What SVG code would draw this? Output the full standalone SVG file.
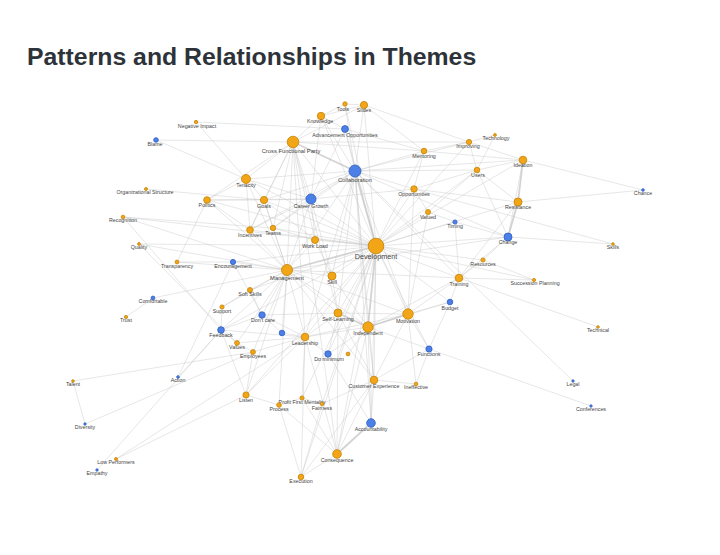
<svg xmlns="http://www.w3.org/2000/svg" width="720" height="555" viewBox="0 0 720 555">
<style>
.e{stroke:#c4c4c4;stroke-opacity:.5;stroke-width:.8;fill:none}
.t{stroke:#bcbcbc;stroke-opacity:.65;stroke-width:1.8;fill:none}
.o{fill:#f2a516;stroke:#c98a0e;stroke-width:.9}
.b{fill:#4d80e6;stroke:#3564c8;stroke-width:.9}
text{font-family:"Liberation Sans",Arial,sans-serif}
.l{font-size:5.3px;fill:#444;text-anchor:middle}
.m{font-size:5.8px}
.h{font-size:7.2px}
</style>
<rect width="720" height="555" fill="#fff"/>
<text x="27" y="65" font-size="24.8" font-weight="bold" fill="#2d3339">Patterns and Relationships in Themes</text>
<g id="connectors">
<line class="t" x1="376" y1="246" x2="355" y2="171"/>
<line class="e" x1="376" y1="246" x2="293" y2="142"/>
<line class="t" x1="376" y1="246" x2="287" y2="270"/>
<line class="t" x1="376" y1="246" x2="368" y2="327"/>
<line class="e" x1="376" y1="246" x2="408" y2="314"/>
<line class="e" x1="376" y1="246" x2="338" y2="313"/>
<line class="e" x1="376" y1="246" x2="311" y2="199"/>
<line class="e" x1="376" y1="246" x2="332" y2="276"/>
<line class="e" x1="376" y1="246" x2="315" y2="240"/>
<line class="e" x1="376" y1="246" x2="305" y2="337"/>
<line class="e" x1="376" y1="246" x2="459" y2="278"/>
<line class="e" x1="376" y1="246" x2="523" y2="160"/>
<line class="e" x1="376" y1="246" x2="518" y2="202"/>
<line class="e" x1="376" y1="246" x2="508" y2="237"/>
<line class="e" x1="376" y1="246" x2="371" y2="423"/>
<line class="e" x1="376" y1="246" x2="337" y2="454"/>
<line class="e" x1="376" y1="246" x2="374" y2="380"/>
<line class="e" x1="376" y1="246" x2="246" y2="179"/>
<line class="e" x1="376" y1="246" x2="264" y2="200"/>
<line class="e" x1="376" y1="246" x2="207" y2="200"/>
<line class="e" x1="376" y1="246" x2="250" y2="230"/>
<line class="e" x1="376" y1="246" x2="273" y2="228"/>
<line class="e" x1="376" y1="246" x2="414" y2="189"/>
<line class="e" x1="376" y1="246" x2="424" y2="151"/>
<line class="e" x1="376" y1="246" x2="321" y2="116"/>
<line class="e" x1="376" y1="246" x2="364" y2="105"/>
<line class="e" x1="376" y1="246" x2="345" y2="104"/>
<line class="e" x1="376" y1="246" x2="345" y2="129"/>
<line class="e" x1="376" y1="246" x2="469" y2="142"/>
<line class="e" x1="376" y1="246" x2="477" y2="170"/>
<line class="e" x1="376" y1="246" x2="428" y2="212"/>
<line class="e" x1="376" y1="246" x2="455" y2="222"/>
<line class="e" x1="376" y1="246" x2="483" y2="260"/>
<line class="e" x1="376" y1="246" x2="450" y2="302"/>
<line class="e" x1="376" y1="246" x2="429" y2="349"/>
<line class="e" x1="376" y1="246" x2="328" y2="354"/>
<line class="e" x1="376" y1="246" x2="221" y2="330"/>
<line class="e" x1="376" y1="246" x2="250" y2="290"/>
<line class="e" x1="376" y1="246" x2="233" y2="262"/>
<line class="e" x1="376" y1="246" x2="139" y2="244"/>
<line class="e" x1="376" y1="246" x2="123" y2="217"/>
<line class="e" x1="376" y1="246" x2="301" y2="477"/>
<line class="e" x1="376" y1="246" x2="246" y2="395"/>
<line class="e" x1="376" y1="246" x2="302" y2="398"/>
<line class="e" x1="376" y1="246" x2="322" y2="404"/>
<line class="e" x1="376" y1="246" x2="534" y2="280"/>
<line class="t" x1="355" y1="171" x2="293" y2="142"/>
<line class="e" x1="355" y1="171" x2="287" y2="270"/>
<line class="e" x1="355" y1="171" x2="368" y2="327"/>
<line class="e" x1="355" y1="171" x2="408" y2="314"/>
<line class="e" x1="355" y1="171" x2="311" y2="199"/>
<line class="e" x1="355" y1="171" x2="321" y2="116"/>
<line class="e" x1="355" y1="171" x2="364" y2="105"/>
<line class="e" x1="355" y1="171" x2="345" y2="104"/>
<line class="e" x1="355" y1="171" x2="345" y2="129"/>
<line class="e" x1="355" y1="171" x2="424" y2="151"/>
<line class="e" x1="355" y1="171" x2="414" y2="189"/>
<line class="e" x1="355" y1="171" x2="246" y2="179"/>
<line class="e" x1="355" y1="171" x2="264" y2="200"/>
<line class="e" x1="355" y1="171" x2="305" y2="337"/>
<line class="e" x1="355" y1="171" x2="338" y2="313"/>
<line class="e" x1="355" y1="171" x2="459" y2="278"/>
<line class="e" x1="355" y1="171" x2="469" y2="142"/>
<line class="e" x1="355" y1="171" x2="477" y2="170"/>
<line class="e" x1="355" y1="171" x2="523" y2="160"/>
<line class="e" x1="355" y1="171" x2="508" y2="237"/>
<line class="e" x1="355" y1="171" x2="250" y2="230"/>
<line class="e" x1="355" y1="171" x2="273" y2="228"/>
<line class="e" x1="355" y1="171" x2="332" y2="276"/>
<line class="e" x1="355" y1="171" x2="374" y2="380"/>
<line class="e" x1="355" y1="171" x2="371" y2="423"/>
<line class="e" x1="355" y1="171" x2="573" y2="381"/>
<line class="e" x1="293" y1="142" x2="246" y2="179"/>
<line class="e" x1="293" y1="142" x2="264" y2="200"/>
<line class="e" x1="293" y1="142" x2="207" y2="200"/>
<line class="e" x1="293" y1="142" x2="287" y2="270"/>
<line class="e" x1="293" y1="142" x2="311" y2="199"/>
<line class="e" x1="293" y1="142" x2="321" y2="116"/>
<line class="e" x1="293" y1="142" x2="364" y2="105"/>
<line class="e" x1="293" y1="142" x2="424" y2="151"/>
<line class="e" x1="293" y1="142" x2="250" y2="230"/>
<line class="e" x1="293" y1="142" x2="273" y2="228"/>
<line class="e" x1="293" y1="142" x2="315" y2="240"/>
<line class="e" x1="293" y1="142" x2="305" y2="337"/>
<line class="e" x1="293" y1="142" x2="338" y2="313"/>
<line class="e" x1="293" y1="142" x2="469" y2="142"/>
<line class="e" x1="293" y1="142" x2="337" y2="454"/>
<line class="e" x1="293" y1="142" x2="156" y2="140"/>
<line class="e" x1="287" y1="270" x2="246" y2="179"/>
<line class="e" x1="287" y1="270" x2="264" y2="200"/>
<line class="e" x1="287" y1="270" x2="207" y2="200"/>
<line class="e" x1="287" y1="270" x2="311" y2="199"/>
<line class="e" x1="287" y1="270" x2="332" y2="276"/>
<line class="e" x1="287" y1="270" x2="368" y2="327"/>
<line class="e" x1="287" y1="270" x2="408" y2="314"/>
<line class="e" x1="287" y1="270" x2="338" y2="313"/>
<line class="e" x1="287" y1="270" x2="305" y2="337"/>
<line class="e" x1="287" y1="270" x2="250" y2="290"/>
<line class="e" x1="287" y1="270" x2="222" y2="307"/>
<line class="e" x1="287" y1="270" x2="221" y2="330"/>
<line class="e" x1="287" y1="270" x2="262" y2="315"/>
<line class="e" x1="287" y1="270" x2="282" y2="333"/>
<line class="e" x1="287" y1="270" x2="237" y2="343"/>
<line class="e" x1="287" y1="270" x2="253" y2="352"/>
<line class="e" x1="287" y1="270" x2="177" y2="262"/>
<line class="e" x1="287" y1="270" x2="233" y2="262"/>
<line class="e" x1="287" y1="270" x2="153" y2="298"/>
<line class="e" x1="287" y1="270" x2="250" y2="230"/>
<line class="e" x1="287" y1="270" x2="273" y2="228"/>
<line class="e" x1="287" y1="270" x2="315" y2="240"/>
<line class="e" x1="287" y1="270" x2="123" y2="217"/>
<line class="e" x1="287" y1="270" x2="139" y2="244"/>
<line class="e" x1="287" y1="270" x2="374" y2="380"/>
<line class="e" x1="287" y1="270" x2="459" y2="278"/>
<line class="e" x1="287" y1="270" x2="508" y2="237"/>
<line class="e" x1="287" y1="270" x2="279" y2="405"/>
<line class="e" x1="287" y1="270" x2="246" y2="395"/>
<line class="t" x1="368" y1="327" x2="408" y2="314"/>
<line class="t" x1="368" y1="327" x2="338" y2="313"/>
<line class="e" x1="368" y1="327" x2="371" y2="423"/>
<line class="e" x1="368" y1="327" x2="337" y2="454"/>
<line class="e" x1="368" y1="327" x2="374" y2="380"/>
<line class="e" x1="368" y1="327" x2="328" y2="354"/>
<line class="e" x1="368" y1="327" x2="305" y2="337"/>
<line class="e" x1="368" y1="327" x2="429" y2="349"/>
<line class="e" x1="368" y1="327" x2="450" y2="302"/>
<line class="e" x1="368" y1="327" x2="459" y2="278"/>
<line class="e" x1="368" y1="327" x2="332" y2="276"/>
<line class="e" x1="368" y1="327" x2="348" y2="354"/>
<line class="e" x1="408" y1="314" x2="338" y2="313"/>
<line class="e" x1="408" y1="314" x2="450" y2="302"/>
<line class="e" x1="408" y1="314" x2="459" y2="278"/>
<line class="e" x1="408" y1="314" x2="429" y2="349"/>
<line class="e" x1="408" y1="314" x2="374" y2="380"/>
<line class="e" x1="408" y1="314" x2="416" y2="384"/>
<line class="e" x1="408" y1="314" x2="305" y2="337"/>
<line class="e" x1="408" y1="314" x2="414" y2="189"/>
<line class="e" x1="408" y1="314" x2="428" y2="212"/>
<line class="e" x1="338" y1="313" x2="305" y2="337"/>
<line class="e" x1="338" y1="313" x2="332" y2="276"/>
<line class="e" x1="338" y1="313" x2="328" y2="354"/>
<line class="e" x1="338" y1="313" x2="374" y2="380"/>
<line class="e" x1="338" y1="313" x2="337" y2="454"/>
<line class="e" x1="338" y1="313" x2="262" y2="315"/>
<line class="e" x1="311" y1="199" x2="264" y2="200"/>
<line class="e" x1="311" y1="199" x2="246" y2="179"/>
<line class="e" x1="311" y1="199" x2="273" y2="228"/>
<line class="e" x1="311" y1="199" x2="250" y2="230"/>
<line class="e" x1="311" y1="199" x2="315" y2="240"/>
<line class="e" x1="311" y1="199" x2="345" y2="129"/>
<line class="e" x1="311" y1="199" x2="321" y2="116"/>
<line class="e" x1="311" y1="199" x2="414" y2="189"/>
<line class="e" x1="311" y1="199" x2="332" y2="276"/>
<line class="e" x1="311" y1="199" x2="207" y2="200"/>
<line class="t" x1="371" y1="423" x2="337" y2="454"/>
<line class="e" x1="371" y1="423" x2="374" y2="380"/>
<line class="e" x1="371" y1="423" x2="328" y2="354"/>
<line class="e" x1="374" y1="380" x2="337" y2="454"/>
<line class="e" x1="374" y1="380" x2="301" y2="477"/>
<line class="e" x1="374" y1="380" x2="322" y2="404"/>
<line class="e" x1="374" y1="380" x2="429" y2="349"/>
<line class="e" x1="374" y1="380" x2="416" y2="384"/>
<line class="e" x1="337" y1="454" x2="305" y2="337"/>
<line class="e" x1="337" y1="454" x2="279" y2="405"/>
<line class="e" x1="337" y1="454" x2="301" y2="477"/>
<line class="e" x1="337" y1="454" x2="302" y2="398"/>
<line class="e" x1="301" y1="477" x2="279" y2="405"/>
<line class="e" x1="301" y1="477" x2="322" y2="404"/>
<line class="e" x1="301" y1="477" x2="305" y2="337"/>
<line class="e" x1="305" y1="337" x2="328" y2="354"/>
<line class="e" x1="305" y1="337" x2="282" y2="333"/>
<line class="e" x1="305" y1="337" x2="221" y2="330"/>
<line class="e" x1="305" y1="337" x2="262" y2="315"/>
<line class="e" x1="305" y1="337" x2="253" y2="352"/>
<line class="e" x1="305" y1="337" x2="237" y2="343"/>
<line class="e" x1="305" y1="337" x2="246" y2="395"/>
<line class="e" x1="305" y1="337" x2="302" y2="398"/>
<line class="e" x1="221" y1="330" x2="246" y2="395"/>
<line class="e" x1="221" y1="330" x2="222" y2="307"/>
<line class="e" x1="221" y1="330" x2="237" y2="343"/>
<line class="e" x1="221" y1="330" x2="262" y2="315"/>
<line class="e" x1="221" y1="330" x2="178" y2="377"/>
<line class="e" x1="178" y1="377" x2="233" y2="262"/>
<line class="e" x1="246" y1="395" x2="279" y2="405"/>
<line class="e" x1="246" y1="395" x2="253" y2="352"/>
<line class="e" x1="246" y1="395" x2="116" y2="459"/>
<line class="e" x1="116" y1="459" x2="305" y2="337"/>
<line class="e" x1="97" y1="470" x2="221" y2="330"/>
<line class="e" x1="85" y1="424" x2="253" y2="352"/>
<line class="e" x1="85" y1="424" x2="73" y2="381"/>
<line class="e" x1="73" y1="381" x2="253" y2="352"/>
<line class="e" x1="153" y1="298" x2="126" y2="317"/>
<line class="e" x1="246" y1="179" x2="264" y2="200"/>
<line class="e" x1="246" y1="179" x2="207" y2="200"/>
<line class="e" x1="246" y1="179" x2="250" y2="230"/>
<line class="e" x1="246" y1="179" x2="156" y2="140"/>
<line class="e" x1="246" y1="179" x2="196" y2="122"/>
<line class="e" x1="264" y1="200" x2="207" y2="200"/>
<line class="e" x1="264" y1="200" x2="250" y2="230"/>
<line class="e" x1="264" y1="200" x2="273" y2="228"/>
<line class="e" x1="264" y1="200" x2="146" y2="189"/>
<line class="e" x1="264" y1="200" x2="315" y2="240"/>
<line class="e" x1="207" y1="200" x2="177" y2="262"/>
<line class="e" x1="207" y1="200" x2="250" y2="230"/>
<line class="e" x1="123" y1="217" x2="273" y2="228"/>
<line class="e" x1="123" y1="217" x2="221" y2="330"/>
<line class="e" x1="139" y1="244" x2="237" y2="343"/>
<line class="e" x1="177" y1="262" x2="233" y2="262"/>
<line class="e" x1="233" y1="262" x2="262" y2="315"/>
<line class="e" x1="250" y1="290" x2="222" y2="307"/>
<line class="e" x1="250" y1="290" x2="262" y2="315"/>
<line class="e" x1="237" y1="343" x2="253" y2="352"/>
<line class="e" x1="262" y1="315" x2="282" y2="333"/>
<line class="e" x1="429" y1="349" x2="450" y2="302"/>
<line class="e" x1="429" y1="349" x2="416" y2="384"/>
<line class="e" x1="429" y1="349" x2="591" y2="406"/>
<line class="e" x1="450" y1="302" x2="459" y2="278"/>
<line class="e" x1="459" y1="278" x2="483" y2="260"/>
<line class="e" x1="459" y1="278" x2="508" y2="237"/>
<line class="e" x1="459" y1="278" x2="455" y2="222"/>
<line class="e" x1="459" y1="278" x2="518" y2="202"/>
<line class="e" x1="459" y1="278" x2="598" y2="327"/>
<line class="t" x1="508" y1="237" x2="518" y2="202"/>
<line class="e" x1="508" y1="237" x2="613" y2="244"/>
<line class="e" x1="508" y1="237" x2="523" y2="160"/>
<line class="e" x1="508" y1="237" x2="483" y2="260"/>
<line class="e" x1="508" y1="237" x2="455" y2="222"/>
<line class="e" x1="508" y1="237" x2="477" y2="170"/>
<line class="t" x1="518" y1="202" x2="523" y2="160"/>
<line class="e" x1="518" y1="202" x2="477" y2="170"/>
<line class="e" x1="518" y1="202" x2="643" y2="190"/>
<line class="e" x1="518" y1="202" x2="414" y2="189"/>
<line class="e" x1="523" y1="160" x2="643" y2="190"/>
<line class="e" x1="523" y1="160" x2="469" y2="142"/>
<line class="e" x1="523" y1="160" x2="477" y2="170"/>
<line class="e" x1="523" y1="160" x2="424" y2="151"/>
<line class="e" x1="477" y1="170" x2="469" y2="142"/>
<line class="e" x1="477" y1="170" x2="495" y2="135"/>
<line class="e" x1="477" y1="170" x2="414" y2="189"/>
<line class="e" x1="477" y1="170" x2="428" y2="212"/>
<line class="e" x1="469" y1="142" x2="495" y2="135"/>
<line class="e" x1="469" y1="142" x2="424" y2="151"/>
<line class="e" x1="424" y1="151" x2="414" y2="189"/>
<line class="e" x1="424" y1="151" x2="364" y2="105"/>
<line class="e" x1="424" y1="151" x2="345" y2="129"/>
<line class="e" x1="414" y1="189" x2="428" y2="212"/>
<line class="e" x1="414" y1="189" x2="613" y2="244"/>
<line class="e" x1="428" y1="212" x2="455" y2="222"/>
<line class="e" x1="321" y1="116" x2="364" y2="105"/>
<line class="e" x1="321" y1="116" x2="345" y2="104"/>
<line class="e" x1="321" y1="116" x2="345" y2="129"/>
<line class="e" x1="364" y1="105" x2="345" y2="104"/>
<line class="e" x1="364" y1="105" x2="469" y2="142"/>
<line class="e" x1="345" y1="129" x2="196" y2="122"/>
<line class="e" x1="315" y1="240" x2="273" y2="228"/>
<line class="e" x1="315" y1="240" x2="332" y2="276"/>
<line class="e" x1="534" y1="280" x2="483" y2="260"/>
<line class="e" x1="534" y1="280" x2="459" y2="278"/>
<line class="e" x1="302" y1="398" x2="279" y2="405"/>
<line class="e" x1="302" y1="398" x2="322" y2="404"/>
</g>
<g id="n-development"><circle class="o" cx="376" cy="246" r="7.8"/><text class="l h" x="376" y="259">Development</text></g>
<g id="n-collaboration"><circle class="b" cx="355" cy="171" r="6"/><text class="l m" x="355" y="182">Collaboration</text></g>
<g id="n-cross-functional-party"><circle class="o" cx="293" cy="142" r="5.8"/><text class="l m" x="291" y="153">Cross Functional Party</text></g>
<g id="n-management"><circle class="o" cx="287" cy="270" r="5.5"/><text class="l m" x="287" y="280">Management</text></g>
<g id="n-career-growth"><circle class="b" cx="311" cy="199" r="5"/><text class="l" x="311" y="208">Career Growth</text></g>
<g id="n-independent"><circle class="o" cx="368" cy="327" r="5.2"/><text class="l" x="368" y="335">Independent</text></g>
<g id="n-motivation"><circle class="o" cx="408" cy="314" r="5.2"/><text class="l" x="408" y="323">Motivation</text></g>
<g id="n-self-learning"><circle class="o" cx="338" cy="313" r="4"/><text class="l" x="338" y="321">Self-Learning</text></g>
<g id="n-skill"><circle class="o" cx="332" cy="276" r="4"/><text class="l" x="332" y="284">Skill</text></g>
<g id="n-work-load"><circle class="o" cx="315" cy="240" r="3.5"/><text class="l" x="315" y="248">Work Load</text></g>
<g id="n-leadership"><circle class="o" cx="305" cy="337" r="3.8"/><text class="l" x="305" y="345">Leadership</text></g>
<g id="n-training"><circle class="o" cx="459" cy="278" r="3.8"/><text class="l" x="459" y="286">Training</text></g>
<g id="n-ideation"><circle class="o" cx="523" cy="160" r="3.8"/><text class="l" x="523" y="167">Ideation</text></g>
<g id="n-resistance"><circle class="o" cx="518" cy="202" r="4"/><text class="l" x="518" y="209">Resistance</text></g>
<g id="n-change"><circle class="b" cx="508" cy="237" r="4"/><text class="l" x="508" y="244">Change</text></g>
<g id="n-accountability"><circle class="b" cx="371" cy="423" r="4.3"/><text class="l" x="371" y="431">Accountability</text></g>
<g id="n-consequence"><circle class="o" cx="337" cy="454" r="4.3"/><text class="l" x="337" y="462">Consequence</text></g>
<g id="n-customer-experience"><circle class="o" cx="374" cy="380" r="3.8"/><text class="l" x="374" y="388">Customer Experience</text></g>
<g id="n-tenacity"><circle class="o" cx="246" cy="179" r="4.5"/><text class="l" x="246" y="187">Tenacity</text></g>
<g id="n-goals"><circle class="o" cx="264" cy="200" r="3.6"/><text class="l" x="264" y="208">Goals</text></g>
<g id="n-politics"><circle class="o" cx="207" cy="200" r="3.3"/><text class="l" x="207" y="207">Politics</text></g>
<g id="n-incentives"><circle class="o" cx="250" cy="230" r="3.3"/><text class="l" x="250" y="237">Incentives</text></g>
<g id="n-teams"><circle class="o" cx="273" cy="228" r="2.7"/><text class="l" x="273" y="235">Teams</text></g>
<g id="n-opportunities"><circle class="o" cx="414" cy="189" r="3.2"/><text class="l" x="414" y="196">Opportunities</text></g>
<g id="n-mentoring"><circle class="o" cx="424" cy="151" r="2.8"/><text class="l" x="424" y="158">Mentoring</text></g>
<g id="n-knowledge"><circle class="o" cx="321" cy="116" r="3.7"/><text class="l" x="320" y="123">Knowledge</text></g>
<g id="n-slides"><circle class="o" cx="364" cy="105" r="3.6"/><text class="l" x="364" y="112">Slides</text></g>
<g id="n-tools"><circle class="o" cx="345" cy="104" r="2.2"/><text class="l" x="343" y="111">Tools</text></g>
<g id="n-advancement-opportunities"><circle class="b" cx="345" cy="129" r="3.4"/><text class="l" x="345" y="137">Advancement Opportunities</text></g>
<g id="n-improving"><circle class="o" cx="469" cy="142" r="2.6"/><text class="l" x="468" y="148">Improving</text></g>
<g id="n-technology"><circle class="o" cx="495" cy="135" r="1.4"/><text class="l" x="496" y="140">Technology</text></g>
<g id="n-users"><circle class="o" cx="477" cy="170" r="2.8"/><text class="l" x="478" y="177">Users</text></g>
<g id="n-valued"><circle class="o" cx="428" cy="212" r="2.5"/><text class="l" x="428" y="219">Valued</text></g>
<g id="n-timing"><circle class="b" cx="455" cy="222" r="2.1"/><text class="l" x="455" y="228">Timing</text></g>
<g id="n-resources"><circle class="o" cx="483" cy="260" r="2.1"/><text class="l" x="483" y="266">Resources</text></g>
<g id="n-succession-planning"><circle class="o" cx="534" cy="280" r="1.6"/><text class="l" x="535" y="285">Succession Planning</text></g>
<g id="n-budget"><circle class="b" cx="450" cy="302" r="2.8"/><text class="l" x="450" y="310">Budget</text></g>
<g id="n-functions"><circle class="b" cx="429" cy="349" r="3.1"/><text class="l" x="429" y="356">Functions</text></g>
<g id="n-ineffective"><circle class="o" cx="416" cy="384" r="1.8"/><text class="l" x="416" y="389">Ineffective</text></g>
<g id="n-do-minimum"><circle class="b" cx="328" cy="354" r="3.2"/><text class="l" x="329" y="361">Do minimum</text></g>
<g id="n-unlabelled-orange"><circle class="o" cx="348" cy="354" r="1.9"/></g>
<g id="n-unlabelled-blue"><circle class="b" cx="282" cy="333" r="2.8"/></g>
<g id="n-dont-care"><circle class="b" cx="262" cy="315" r="3.2"/><text class="l" x="263" y="322">Don't care</text></g>
<g id="n-feedback"><circle class="b" cx="221" cy="330" r="3.3"/><text class="l" x="221" y="337">Feedback</text></g>
<g id="n-values"><circle class="o" cx="237" cy="343" r="2.4"/><text class="l" x="237" y="349">Values</text></g>
<g id="n-employees"><circle class="o" cx="253" cy="352" r="2.4"/><text class="l" x="253" y="358">Employees</text></g>
<g id="n-soft-skills"><circle class="o" cx="250" cy="290" r="2.5"/><text class="l" x="250" y="296">Soft Skills</text></g>
<g id="n-support"><circle class="o" cx="222" cy="307" r="2.1"/><text class="l" x="222" y="313">Support</text></g>
<g id="n-encouragement"><circle class="b" cx="233" cy="262" r="2.6"/><text class="l" x="233" y="268">Encouragement</text></g>
<g id="n-transparency"><circle class="o" cx="177" cy="262" r="1.9"/><text class="l" x="177" y="268">Transparency</text></g>
<g id="n-quality"><circle class="o" cx="139" cy="244" r="1.4"/><text class="l" x="139" y="249">Quality</text></g>
<g id="n-recognition"><circle class="o" cx="123" cy="217" r="1.8"/><text class="l" x="123" y="222">Recognition</text></g>
<g id="n-organizational-structure"><circle class="o" cx="146" cy="189" r="1.5"/><text class="l" x="145" y="194">Organizational Structure</text></g>
<g id="n-blame"><circle class="b" cx="156" cy="140" r="2.3"/><text class="l" x="155" y="146">Blame</text></g>
<g id="n-negative-impact"><circle class="o" cx="196" cy="122" r="1.7"/><text class="l" x="197" y="128">Negative Impact</text></g>
<g id="n-chance"><circle class="b" cx="643" cy="190" r="1.3"/><text class="l" x="643" y="195">Chance</text></g>
<g id="n-skills"><circle class="o" cx="613" cy="244" r="1.3"/><text class="l" x="613" y="249">Skills</text></g>
<g id="n-technical"><circle class="o" cx="598" cy="327" r="1.3"/><text class="l" x="598" y="332">Technical</text></g>
<g id="n-legal"><circle class="b" cx="573" cy="381" r="1.2"/><text class="l" x="573" y="386">Legal</text></g>
<g id="n-conferences"><circle class="b" cx="591" cy="406" r="1.2"/><text class="l" x="591" y="411">Conferences</text></g>
<g id="n-comfortable"><circle class="b" cx="153" cy="298" r="1.9"/><text class="l" x="153" y="303">Comfortable</text></g>
<g id="n-trust"><circle class="o" cx="126" cy="317" r="1.6"/><text class="l" x="126" y="322">Trust</text></g>
<g id="n-action"><circle class="b" cx="178" cy="377" r="1.3"/><text class="l" x="178" y="382">Action</text></g>
<g id="n-talent"><circle class="o" cx="73" cy="381" r="1.3"/><text class="l" x="73" y="386">Talent</text></g>
<g id="n-diversity"><circle class="b" cx="85" cy="424" r="1.2"/><text class="l" x="85" y="429">Diversity</text></g>
<g id="n-listen"><circle class="o" cx="246" cy="395" r="3.1"/><text class="l" x="246" y="402">Listen</text></g>
<g id="n-profit-first-mentality"><circle class="o" cx="302" cy="398" r="2.1"/><text class="l" x="302" y="404">Profit First Mentality</text></g>
<g id="n-process"><circle class="o" cx="279" cy="405" r="2.3"/><text class="l" x="279" y="411">Process</text></g>
<g id="n-fairness"><circle class="o" cx="322" cy="404" r="1.8"/><text class="l" x="322" y="410">Fairness</text></g>
<g id="n-low-performers"><circle class="o" cx="116" cy="459" r="1.5"/><text class="l" x="116" y="464">Low Performers</text></g>
<g id="n-empathy"><circle class="b" cx="97" cy="470" r="1.2"/><text class="l" x="97" y="475">Empathy</text></g>
<g id="n-execution"><circle class="o" cx="301" cy="477" r="2.8"/><text class="l" x="301" y="483">Execution</text></g>
</svg>
